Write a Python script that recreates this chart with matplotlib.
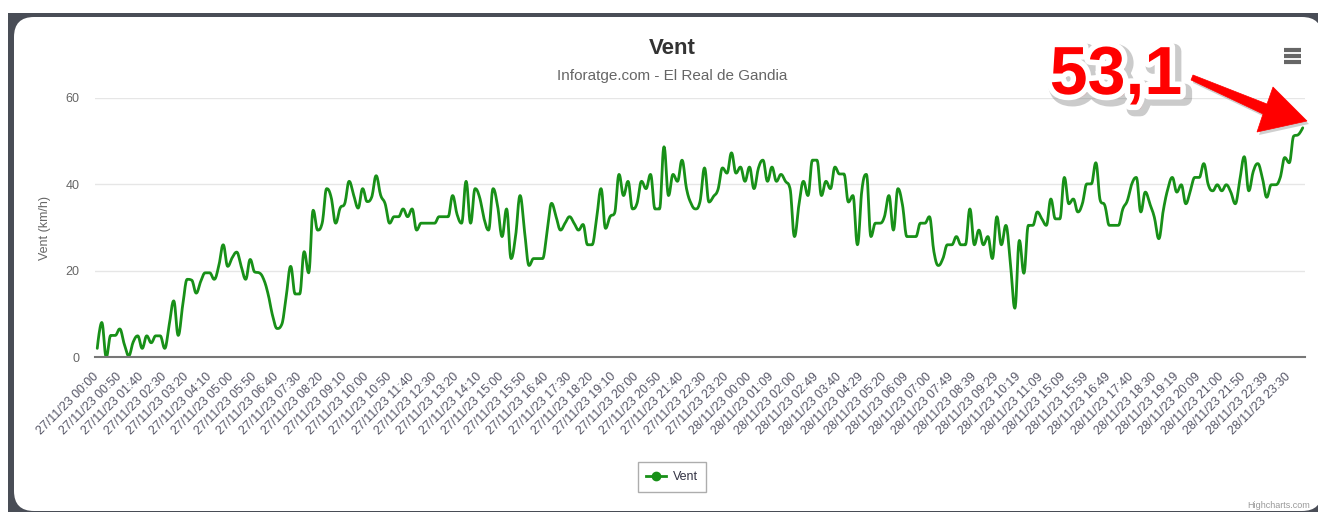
import numpy as np
import matplotlib
matplotlib.use('Agg')
import matplotlib.pyplot as plt
from matplotlib.patches import FancyBboxPatch, Rectangle, Polygon
from matplotlib.lines import Line2D
from matplotlib.transforms import IdentityTransform
import matplotlib.patheffects as pe

W, H, DPI = 1318, 512, 100

# ---------------- data ----------------
wind = [
    2, 8, 0, 5, 5, 6.5, 3, 0.3, 3.5, 4.9,
    2, 4.9, 3.3, 4.9, 4.9, 2, 7.5, 13, 5, 12,
    18, 17.8, 14.8, 17.5, 19.5, 19.5, 18, 21, 26, 21,
    23, 24.3, 21, 18, 22.6, 19.7, 19.5, 18, 14.5, 9.5,
    6.6, 7.5, 14, 21, 14.6, 14.6, 24.4, 19.5, 34, 29.4,
    31, 39, 37, 31, 34.5, 35.5, 40.7, 37.5, 34.5, 39,
    36, 37, 42, 37.5, 35.5, 31, 32.5, 32.5, 34.3, 32.5,
    34.3, 29.4, 31, 31, 31, 31, 32.5, 32.5, 32.5, 37.4,
    33, 31, 40.7, 31, 39, 37, 32, 29.4, 39, 35,
    27.9, 34.3, 22.8, 28, 37.4, 29, 21.2, 22.8, 22.8, 22.8,
    29, 35.6, 32.5, 29.4, 31, 32.5, 31, 29.4, 30.7, 26,
    26, 32, 39, 29.8, 32.5, 33.3, 42.3, 37.4, 40.7, 34.3,
    35.6, 40.7, 39, 42.3, 34.3, 34.3, 48.7, 37.4, 42.3, 40.7,
    45.6, 39, 35.6, 34.3, 36, 43.8, 35.9, 37.2, 38.8, 43.8,
    42.6, 47.3, 42.6, 44, 40.7, 44, 39, 43.8, 45.6, 40.7,
    44, 40.7, 42.3, 40.7, 39.1, 27.9, 35.3, 40.7, 37.4, 45.6,
    45.6, 37.4, 40.7, 39, 44, 42.4, 42.4, 35.9, 37.4, 26,
    38.8, 42.3, 27.9, 31, 31, 32.5, 37.4, 29.4, 39, 35.3,
    27.9, 27.9, 27.9, 31, 31, 32.5, 24.4, 21.2, 22.8, 26,
    26, 27.9, 26, 26, 34.3, 26, 29.4, 26, 27.9, 22.8,
    32.5, 26, 30.5, 21.7, 11.3, 27, 19.4, 30.5, 30.5, 33.6,
    32, 30.5, 36.6, 32, 32, 41.6, 35.5, 36.6, 33.6, 35.5,
    40.1, 40.1, 45, 36.2, 35.1, 30.5, 30.5, 30.5, 34.3, 36.2,
    40.1, 41.6, 33.6, 38.2, 35.5, 32.4, 27.4, 34, 38.9, 41.6,
    38.2, 39.9, 35.5, 38.5, 41.6, 41.6, 44.8, 39.9, 38.5, 39.9,
    38.5, 39.9, 38.2, 35.5, 41, 46.4, 38.5, 43, 44.8, 41.6,
    37, 39.9, 39.9, 41.6, 46.2, 45, 51.2, 51.5, 53.1,
]

day1_times = ['00:00', '00:50', '01:40', '02:30', '03:20', '04:10', '05:00', '05:50',
              '06:40', '07:30', '08:20', '09:10', '10:00', '10:50', '11:40', '12:30',
              '13:20', '14:10', '15:00', '15:50', '16:40', '17:30', '18:20', '19:10',
              '20:00', '20:50', '21:40', '22:30', '23:20']
day2_times = ['00:00', '01:09', '02:00', '02:49', '03:40', '04:29', '05:20', '06:09',
              '07:00', '07:49', '08:39', '09:29', '10:19', '11:09', '15:09', '15:59',
              '16:49', '17:40', '18:30', '19:19', '20:09', '21:00', '21:50', '22:39',
              '23:30']
tick_labels = ['27/11/23 ' + t for t in day1_times] + ['28/11/23 ' + t for t in day2_times]
tick_step = 5
y_ticks = [0, 20, 40, 60]

title = 'Vent'
subtitle = 'Inforatge.com - El Real de Gandia'
y_title = 'Vent (km/h)'
series_name = 'Vent'
callout = '53,1'
credit = 'Highcharts.com'

GREEN = '#189018'
FONT = 'Liberation Sans'
plt.rcParams['font.family'] = [FONT, 'DejaVu Sans']


def fx(x):
    return x / W


def fy(y):
    return 1 - y / H


def spline(vals, smoothing=1.5, samples=12):
    """Highcharts-style spline through the data points (rendering only)."""
    y = np.asarray(vals, float)
    n = len(y)
    x = np.arange(n, dtype=float)
    lc = np.zeros((n, 2))
    rc = np.zeros((n, 2))
    d = smoothing + 1
    for i in range(n):
        if i == 0 or i == n - 1:
            lc[i] = rc[i] = (x[i], y[i])
            continue
        lx = (smoothing * x[i] + x[i - 1]) / d
        ly = (smoothing * y[i] + y[i - 1]) / d
        rx = (smoothing * x[i] + x[i + 1]) / d
        ry = (smoothing * y[i] + y[i + 1]) / d
        corr = ((ry - ly) * (rx - x[i])) / (rx - lx) + y[i] - ry
        ly += corr
        ry += corr
        if ly > y[i - 1] and ly > y[i]:
            ly = max(y[i - 1], y[i]); ry = 2 * y[i] - ly
        elif ly < y[i - 1] and ly < y[i]:
            ly = min(y[i - 1], y[i]); ry = 2 * y[i] - ly
        if ry > y[i + 1] and ry > y[i]:
            ry = max(y[i + 1], y[i]); ly = 2 * y[i] - ry
        elif ry < y[i + 1] and ry < y[i]:
            ry = min(y[i + 1], y[i]); ly = 2 * y[i] - ry
        lc[i] = (lx, ly)
        rc[i] = (rx, ry)
    t = np.linspace(0, 1, samples)[:, None]
    pts = []
    for i in range(n - 1):
        p0 = np.array([x[i], y[i]]); p1 = rc[i]; p2 = lc[i + 1]; p3 = np.array([x[i + 1], y[i + 1]])
        seg = ((1 - t) ** 3) * p0 + 3 * ((1 - t) ** 2) * t * p1 + 3 * (1 - t) * t ** 2 * p2 + t ** 3 * p3
        pts.append(seg if i == 0 else seg[1:])
    pts = np.vstack(pts)
    return pts[:, 0], pts[:, 1]


fig = plt.figure(figsize=(W / DPI, H / DPI), dpi=DPI)
fig.patch.set_facecolor('white')
ident = IdentityTransform()

# dark frame + rounded white card (pixel coordinates, origin bottom-left)
fig.add_artist(Rectangle((8, 0), W, H - 13, transform=ident, facecolor='#494d56',
                         edgecolor='none', zorder=-10))
r = 20
cx0, cx1, cy_top, cy_bot = 14, 1322, 17, 511
fig.add_artist(FancyBboxPatch((cx0 + r, (H - cy_bot) + r), (cx1 - cx0) - 2 * r, (cy_bot - cy_top) - 2 * r,
                              boxstyle=f'round,pad={r},rounding_size={r}', transform=ident,
                              facecolor='white', edgecolor='none', zorder=-9))

# plot area
ax = fig.add_axes([fx(95), fy(357), (1305 - 95) / W, (357 - 98) / H])
ax.set_facecolor('none')
n = len(wind)
sx, sy = spline(wind)
ax.plot(sx, sy, color=GREEN, lw=2.0, solid_capstyle='round', solid_joinstyle='round', zorder=3)
ax.set_xlim(-0.5, n - 0.5)
ax.set_ylim(0, 60)
ax.set_yticks(y_ticks)
ax.set_yticklabels([str(v) for v in y_ticks], fontsize=9, color='#666666')
ax.tick_params(axis='y', length=0, pad=11)
ax.grid(axis='y', color='#e6e6e6', lw=1)
ax.set_axisbelow(True)
for s in ['top', 'right', 'left']:
    ax.spines[s].set_visible(False)
ax.spines['bottom'].set_color('#777777')
ax.spines['bottom'].set_linewidth(1.5)
ax.spines['bottom'].set_zorder(4)
ax.set_xticks(list(range(0, n, tick_step))[:len(tick_labels)])
ax.set_xticklabels(tick_labels, rotation=45, ha='right', va='center', rotation_mode='anchor',
                   fontsize=8.9, color='#555566')
ax.tick_params(axis='x', length=0, pad=13)
fig.text(fx(45), fy(228), y_title, rotation=90, ha='center', va='center', fontsize=9, color='#666666')

# titles
fig.text(fx(672), fy(48), title, ha='center', va='center', fontsize=16, fontweight='bold', color='#333333')
fig.text(fx(672), fy(76), subtitle, ha='center', va='center', fontsize=11, color='#666666')

# legend
handle = Line2D([], [], color=GREEN, lw=2, marker='o', markersize=6)
leg = fig.legend([handle], [series_name], loc='center', bbox_to_anchor=(fx(672), fy(477)),
                 bbox_transform=fig.transFigure, fontsize=9, frameon=True, fancybox=False,
                 edgecolor='#999999', handlelength=1.6, handletextpad=0.5, borderpad=0.7)
leg.get_frame().set_linewidth(1)
for t in leg.get_texts():
    t.set_color('#333344')

# credit
fig.text(fx(1310), fy(506), credit, ha='right', va='center', fontsize=6.5, color='#999999')

# menu icon
for yy in (50, 56, 62):
    fig.add_artist(Line2D([1284, 1301], [H - yy, H - yy], transform=ident, color='#666666',
                          lw=3, solid_capstyle='butt'))

# callout text
fig.text(fx(1116), fy(76), callout, ha='center', va='center', fontsize=49, fontweight='bold',
         color='#ff0000', zorder=20,
         path_effects=[pe.Stroke(linewidth=11, foreground='#555555', alpha=0.3, offset=(3, -3)),
                       pe.Stroke(linewidth=8, foreground='white'), pe.Normal()])

# callout arrow (annotation decoration, pixel coordinates)
arrow_px = [(1191, 80), (1193, 75), (1267, 104), (1273, 87), (1307, 121),
            (1257, 132), (1263, 114)]
arrow_disp = [(xx, H - yy) for xx, yy in arrow_px]
shadow_disp = [(xx + 2, yy - 3) for xx, yy in arrow_disp]
fig.add_artist(Polygon(shadow_disp, closed=True, transform=ident, facecolor='#777777',
                       alpha=0.35, edgecolor='none', zorder=19))
fig.add_artist(Polygon(arrow_disp, closed=True, transform=ident, facecolor='#ff0000',
                       edgecolor='#ff0000', lw=0.5, zorder=20))

fig.savefig('out.png', dpi=DPI)
